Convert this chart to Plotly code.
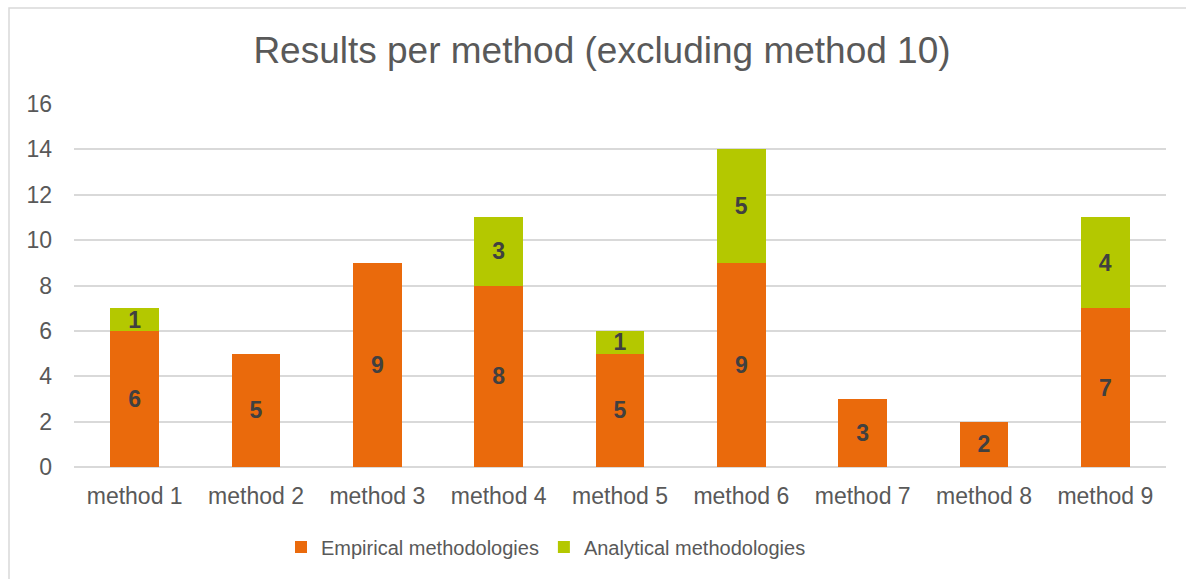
import plotly.graph_objects as go

categories = ["method 1", "method 2", "method 3", "method 4", "method 5",
              "method 6", "method 7", "method 8", "method 9"]
empirical = [6, 5, 9, 8, 5, 9, 3, 2, 7]
analytical = [1, None, None, 3, 1, 5, None, None, 4]
y_ticks = [0, 2, 4, 6, 8, 10, 12, 14, 16]

FONT = "Liberation Sans, Arial, sans-serif"
ORANGE = "#EA6A0C"
GREEN = "#B4C800"

fig = go.Figure()
fig.add_trace(go.Bar(
    x=categories, y=empirical, name="Empirical methodologies",
    marker=dict(color=ORANGE, line=dict(width=0)),
    text=[str(v) for v in empirical], textposition="inside",
    insidetextanchor="middle", textangle=0,
    textfont=dict(family=FONT, size=23, color="#404040", weight="bold"),
))
fig.add_trace(go.Bar(
    x=categories, y=analytical, name="Analytical methodologies",
    marker=dict(color=GREEN, line=dict(width=0)),
    text=[str(v) if v else "" for v in analytical], textposition="inside",
    insidetextanchor="middle", textangle=0,
    textfont=dict(family=FONT, size=23, color="#404040", weight="bold"),
))

L, R, T, B = 74, 20, 104, 112
W, H = 1186, 579
pw, ph = W - L - R, H - T - B

fig.update_layout(
    barmode="stack", bargap=0.6,
    width=W, height=H,
    margin=dict(l=L, r=R, t=T, b=B, pad=0),
    paper_bgcolor="white", plot_bgcolor="white",
    font=dict(family=FONT, color="#595959"),
    uniformtext=dict(minsize=22, mode="show"),
    title=dict(text="Results per method (excluding method 10)",
               x=602 / W, xanchor="center", xref="container",
               y=1 - 50 / H, yanchor="middle", yref="container",
               font=dict(family=FONT, size=37, color="#595959")),
    xaxis=dict(showgrid=False, showline=False, zeroline=False,
               tickfont=dict(family=FONT, size=23, color="#595959"),
               ticks="", ticklabelstandoff=13),
    yaxis=dict(range=[0, 16], tickvals=y_ticks, showgrid=True,
               gridcolor="#D9D9D9", gridwidth=1.5, zeroline=True,
               zerolinecolor="#D9D9D9", zerolinewidth=1.5, showline=False,
               tickfont=dict(family=FONT, size=23, color="#595959"),
               ticks="", ticklabelstandoff=21),
    legend=dict(orientation="h", x=(546 - L) / pw, xanchor="center",
                y=(467 - 547) / ph, yanchor="middle",
                font=dict(family=FONT, size=20, color="#595959"),
                traceorder="normal", itemwidth=30),
    shapes=[dict(type="rect", xref="paper", yref="paper",
                 x0=(9 - L) / pw, x1=(W + 20 - L) / pw,
                 y0=(467 - H - 20) / ph, y1=(467 - 8) / ph,
                 line=dict(color="#D9D9D9", width=1.5), layer="below")],
)

fig.write_html("out.html")
